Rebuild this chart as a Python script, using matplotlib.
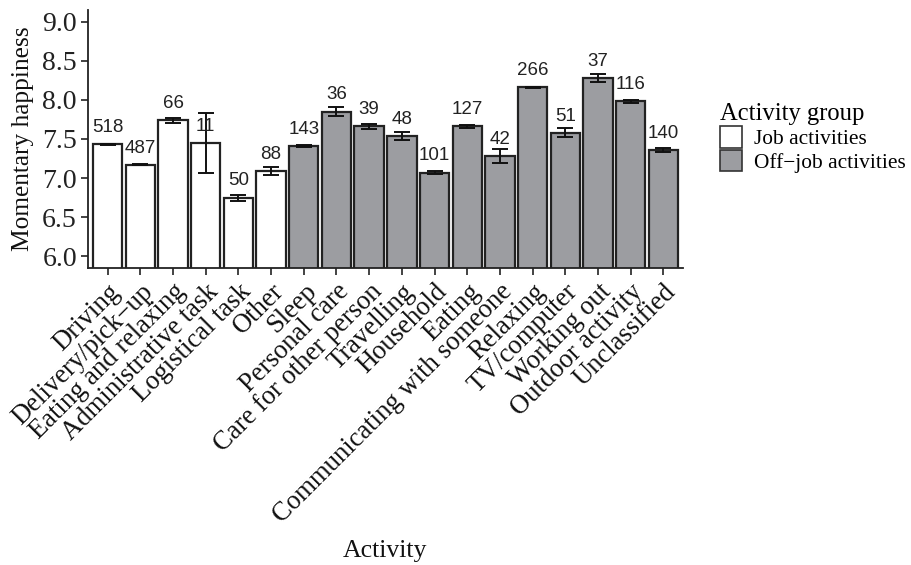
import matplotlib
matplotlib.use("Agg")
import matplotlib.pyplot as plt
from matplotlib.patches import Patch

activities = ["Driving", "Delivery/pick\u2212up", "Eating and relaxing", "Administrative task",
              "Logistical task", "Other", "Sleep", "Personal care", "Care for other person",
              "Travelling", "Household", "Eating", "Communicating with someone", "Relaxing",
              "TV/computer", "Working out", "Outdoor activity", "Unclassified"]
groups = ["Job activities"] * 6 + ["Off\u2212job activities"] * 12
happiness = [7.43, 7.17, 7.74, 7.45, 6.75, 7.09, 7.41, 7.85, 7.66, 7.54, 7.07,
             7.66, 7.28, 8.16, 7.58, 8.28, 7.98, 7.36]
std_error = [0.005, 0.005, 0.03, 0.38, 0.04, 0.05, 0.015, 0.06, 0.03, 0.05, 0.02,
             0.02, 0.09, 0.006, 0.06, 0.045, 0.015, 0.02]
counts = [518, 487, 66, 11, 50, 88, 143, 36, 39, 48, 101, 127, 42, 266, 51, 37, 116, 140]

group_colors = {"Job activities": "#ffffff", "Off\u2212job activities": "#9c9da1"}
serif = ["Liberation Serif", "DejaVu Serif"]

fig = plt.figure(figsize=(9.11, 5.65), dpi=100)
ax = fig.add_axes([88 / 911, 1 - 268 / 565, (683 - 88) / 911, (268 - 10) / 565])

x = list(range(len(activities)))
colors = [group_colors[g] for g in groups]
ax.bar(x, happiness, width=0.9, color=colors, edgecolor="#222222", linewidth=1.6, zorder=2)
ax.errorbar(x, happiness, yerr=std_error, fmt="none", ecolor="#111111",
            elinewidth=1.4, capsize=6, capthick=1.4, zorder=3)

for xi, yi, n in zip(x, happiness, counts):
    ax.annotate(str(n), (xi, yi), xytext=(0, 8.8), textcoords="offset points",
                ha="center", va="baseline", fontsize=13.5,
                family=["Liberation Sans", "DejaVu Sans"], color="#222222")

ax.set_xlim(-0.6, len(activities) - 0.4)
ax.set_ylim(5.85, 9.15)
ticks = [6.0, 6.5, 7.0, 7.5, 8.0, 8.5, 9.0]
ax.set_yticks(ticks)
ax.set_yticklabels([f"{v:.1f}" for v in ticks], family=serif, fontsize=20, color="#222222")
ax.set_xticks(x)
ax.set_xticklabels(activities, rotation=45, ha="right", rotation_mode="anchor",
                   family=serif, fontsize=19.2, color="#111111")
ax.tick_params(axis="both", length=5, width=1.2, color="#222222", pad=3)

for side in ["top", "right"]:
    ax.spines[side].set_visible(False)
for side in ["left", "bottom"]:
    ax.spines[side].set_linewidth(1.3)
    ax.spines[side].set_color("#222222")

ax.set_ylabel("Momentary happiness", family=serif, fontsize=18.3, color="#111111", labelpad=6)
fig.text(385 / 911, 1 - 557 / 565, "Activity", family=serif, fontsize=18.5,
         ha="center", va="baseline", color="#111111")

handles = [Patch(facecolor=group_colors[g], edgecolor="#333333", linewidth=1.2, label=g)
           for g in ["Job activities", "Off\u2212job activities"]]
leg = fig.legend(handles=handles, title="Activity group", loc="upper left",
                 bbox_to_anchor=(701 / 911, 1 - 84 / 565), frameon=False,
                 prop={"family": serif, "size": 15.4}, handlelength=1.0,
                 handleheight=1.15, handletextpad=0.6, labelspacing=0.05,
                 alignment="left")
leg.get_title().set_fontfamily(serif)
leg.get_title().set_fontsize(17.7)

fig.savefig("out.png", dpi=100)
